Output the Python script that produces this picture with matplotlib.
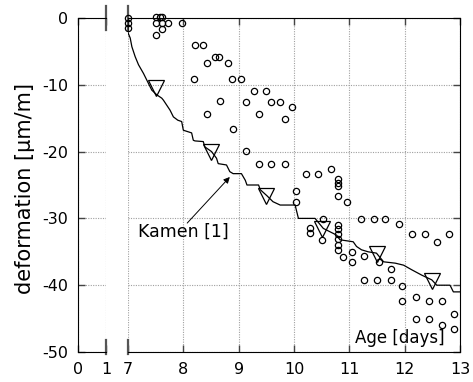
import matplotlib
matplotlib.use("Agg")
import matplotlib.pyplot as plt

plt.rcParams['font.family'] = ['DejaVu Sans']
plt.rcParams['axes.unicode_minus'] = False

# measured deformation (open circles)
circ_x = [7.00, 7.00, 7.00,
          7.51, 7.57, 7.61, 7.51, 7.61, 7.72, 7.61, 7.51, 7.97,
          8.21, 8.35, 8.43, 8.57, 8.65, 8.80, 8.19, 8.88, 9.05, 8.66, 8.43, 8.89,
          9.28, 9.50, 9.13, 9.59, 9.75, 9.97, 9.36, 9.83,
          9.13, 9.36, 9.59, 9.83,
          10.21, 10.44, 10.66, 10.79, 10.79, 10.79,
          10.04, 10.04, 10.79, 10.96,
          10.52, 11.21, 11.45, 11.65, 11.89,
          10.29, 10.29, 10.51,
          10.79, 10.79, 10.79, 10.79, 10.79, 10.79, 10.89,
          11.04, 11.04, 11.27,
          12.13, 12.37, 12.81, 12.59,
          11.53, 11.75,
          11.27, 11.50, 11.75, 11.96, 11.96, 12.21, 12.44, 12.67, 12.90,
          12.21, 12.44, 12.67, 12.90]
circ_y = [0.0, -0.7, -1.5,
          0.1, 0.1, 0.1, -0.8, -0.8, -0.8, -1.6, -2.5, -0.8,
          -4.1, -4.1, -6.7, -5.8, -5.8, -6.7, -9.2, -9.2, -9.2, -12.4, -14.3, -16.6,
          -10.9, -10.9, -12.5, -12.5, -12.5, -13.3, -14.3, -15.1,
          -19.9, -21.8, -21.8, -21.8,
          -23.4, -23.4, -22.6, -24.1, -24.7, -25.2,
          -25.9, -27.5, -26.6, -27.5,
          -30.1, -30.1, -30.1, -30.1, -30.8,
          -31.5, -32.2, -33.3,
          -31.0, -31.6, -32.3, -33.1, -34.0, -34.8, -35.8,
          -35.0, -36.6, -35.7,
          -32.4, -32.4, -32.4, -33.5,
          -36.6, -37.6,
          -39.2, -39.2, -39.2, -40.1, -42.4, -41.7, -42.4, -42.4, -44.3,
          -45.0, -45.0, -46.0, -46.6]

# model curve (step line)
line_x = [7.00, 7.00, 7.04, 7.07, 7.13, 7.19, 7.28, 7.34, 7.43, 7.52,
          7.61, 7.64, 7.76, 7.82, 7.90, 7.97, 8.00, 8.15, 8.18, 8.21,
          8.36, 8.39, 8.51, 8.60, 8.63, 8.78, 8.84, 8.90, 9.05, 9.12,
          9.15, 9.36, 9.39, 9.51, 9.62, 9.75, 10.02, 10.05, 10.08, 10.38,
          10.53, 10.65, 10.77, 10.83, 11.07, 11.13, 11.22, 11.34, 11.49, 11.62,
          11.83, 11.98, 12.13, 12.31, 12.49, 12.58, 12.82, 12.88, 13.00]
line_y = [0.0, -2.2, -3.0, -4.3, -5.8, -7.0, -8.3, -9.3, -10.8, -11.5,
          -12.0, -12.3, -13.8, -14.8, -15.3, -15.5, -16.8, -17.2, -18.3, -18.4,
          -18.5, -19.3, -20.0, -21.0, -21.8, -22.0, -23.0, -23.3, -23.3, -24.3,
          -25.0, -25.0, -25.7, -26.6, -27.5, -28.0, -28.0, -29.0, -30.0, -30.0,
          -31.5, -32.0, -32.5, -33.2, -33.5, -34.2, -34.7, -35.0, -35.2, -36.5,
          -36.7, -37.0, -37.7, -38.5, -39.2, -40.0, -40.0, -41.0, -41.0]

# Kamen [1]
tri_x = [7.5, 8.5, 9.5, 10.5, 11.5, 12.5]
tri_y = [-10.5, -20.0, -26.6, -31.6, -35.3, -39.4]

yticks = [0, -10, -20, -30, -40, -50]
xticks_left = [0, 1]
xticks_right = [7, 8, 9, 10, 11, 12, 13]

fig = plt.figure(figsize=(4.73, 3.82), dpi=100, facecolor='white')
ax1 = fig.add_axes([78/473, 1 - 352/382, 28/473, 334/382])
ax2 = fig.add_axes([128/473, 1 - 352/382, 332/473, 334/382])

grid_kw = dict(color='#a0a0a0', linestyle=(0, (1, 1.2)), linewidth=0.8)
for ax in (ax1, ax2):
    ax.set_ylim(-50, 0)
    ax.set_yticks(yticks)
    ax.grid(True, **grid_kw)
    ax.set_axisbelow(True)
    ax.tick_params(direction='in', length=5, width=1, color='#444444',
                   labelsize=11.5, top=True, bottom=True)

ax1.set_xlim(0, 1)
ax1.set_xticks(xticks_left)
ax1.spines['right'].set_visible(False)
ax1.tick_params(axis='y', left=True, right=False, pad=7)
ax1.tick_params(axis='x', pad=7)
ax1.set_yticklabels([str(v) for v in yticks])

ax2.set_xlim(7, 13)
ax2.set_xticks(xticks_right)
ax2.spines['left'].set_visible(False)
ax2.tick_params(axis='y', left=False, right=True, labelleft=False)
ax2.tick_params(axis='x', pad=7)

# break marks
for ax, xb in ((ax1, 1), (ax2, 7)):
    tr = ax.get_xaxis_transform()
    ax.plot([xb, xb], [1.036, 0.965], color='#555555', lw=1.6, transform=tr, clip_on=False)
    ax.plot([xb, xb], [0.036, -0.005], color='#555555', lw=1.6, transform=tr, clip_on=False)

ax2.plot(line_x, line_y, color='black', lw=0.9, zorder=3)
ax2.plot(tri_x, tri_y, linestyle='none', marker='v', markersize=11,
         markerfacecolor='none', markeredgecolor='black', markeredgewidth=0.9, zorder=4)
ax2.plot(circ_x, circ_y, linestyle='none', marker='o', markersize=4.5,
         markerfacecolor='none', markeredgecolor='black', markeredgewidth=0.9,
         zorder=5, clip_on=False)

ax2.annotate('', xy=(8.84, -23.8), xytext=(8.07, -30.7),
             arrowprops=dict(arrowstyle='-|>', lw=0.7, color='black',
                             mutation_scale=9, shrinkA=0, shrinkB=0))
ax2.text(7.18, -32.0, 'Kamen [1]', fontsize=12.5, ha='left', va='center')
ax2.text(12.73, -47.9, 'Age [days]', fontsize=12, ha='right', va='center')

fig.text(25/473, 1 - 188/382, 'deformation [\u00b5m/m]', rotation=90,
         fontsize=15, ha='center', va='center')

fig.savefig('out.png', dpi=100, facecolor='white')
